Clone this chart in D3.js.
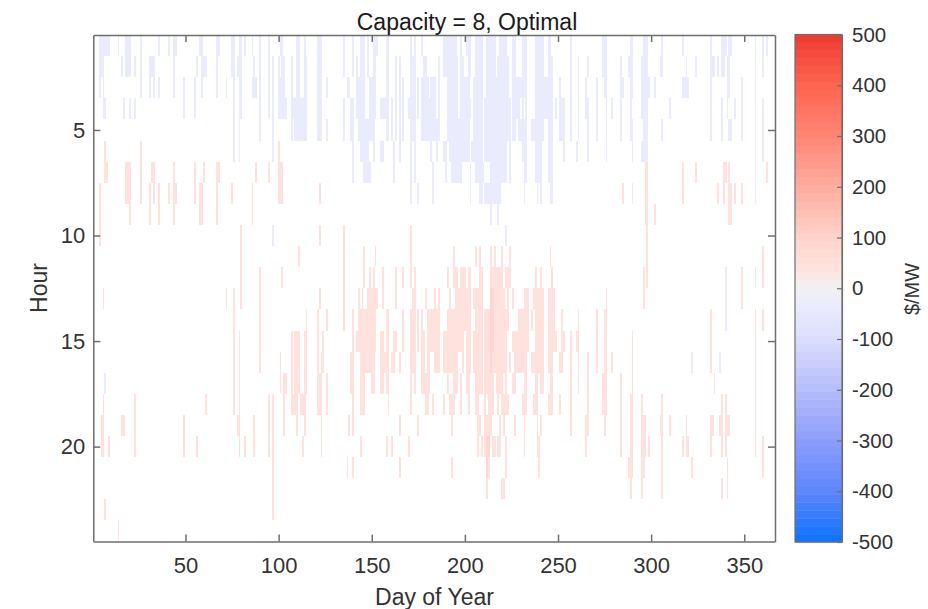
<!doctype html>
<html>

<head>
  <meta charset="UTF-8">
  <title>Capacity = 8, Optimal</title>
  <script src="https://d3js.org/d3.v7.min.js"></script>
  <style>
    html, body { margin: 0; padding: 0; background: #fff; }
    svg { display: block; }
    text { font-family: "Liberation Sans", Arial, sans-serif; }
  </style>
</head>

<body>
  <script>
    // runs of days with a value, per hour: a number is one day, [a, b] is day a to day b
    var neg1 = [[4,9],14,[18,20],26,36,41,[44,45],[58,59],[67,68],[75,76],[79,80],82,86,90,95,[101,102],[110,111],114,[121,123],135,140,[144,146],148,[151,153],[158,159],171,173,177,[189,195],198,[201,203],[206,209],[212,216],[219,222],[226,227],[231,233],[238,242],[245,246],257,[274,276],[289,290],[296,298],306,317,332,[338,340],[342,343],356,360,362];
    var neg2 = [[4,6],16,[18,20],23,26,[31,33],44,56,[59,61],67,[75,76],[78,80],87,90,95,97,100,[102,103],107,[110,111],[114,115],[121,123],135,140,142,[144,146],148,[151,152],[158,159],163,165,[171,173],[178,179],186,[189,196],[198,199],[202,203],[206,209],[212,216],[218,223],[226,227],[231,233],[238,242],[245,247],257,261,266,[274,276],284,[288,290],[295,298],[305,306],319,324,[332,334],336,[338,339],[341,342],356,360];
    var neg3 = [4,6,26,31,33,36,44,49,55,59,67,72,76,[79,80],[86,88],90,95,97,[100,103],107,[110,111],[114,115],[121,123],126,[137,138],[142,146],[149,152],[158,159],163,165,167,[171,173],175,[177,180],[182,184],186,[191,196],[198,202],[205,209],[212,223],[226,233],[238,247],251,257,261,265,271,[275,276],[284,285],[289,290],[295,299],302,[317,320],332,[341,342],349,356];
    var neg4 = [[6,7],17,20,23,49,55,76,[79,80],90,95,97,[100,104],[107,111],[112,115],[121,123],135,[139,140],[142,146],[149,152],[155,159],161,163,165,167,[170,173],175,[177,184],186,[191,196],[198,203],[205,209],[211,224],[226,229],231,233,[238,247],249,[251,253],257,261,[265,266],271,276,279,284,289,[295,298],310,332,338,341,345,349,356,360];
    var neg5 = [76,79,90,97,107,[109,111],[112,115],[121,123],126,135,[139,140],[143,151],[158,159],161,163,165,167,[171,173],[177,186],[191,202],[205,209],[211,224],[226,227],[229,233],[236,242],[245,247],[251,253],257,261,266,271,276,284,[289,290],[296,298],306,332,338,[342,343],349,356,360];
    var neg6 = [76,79,97,140,[144,148],151,[155,156],162,165,171,173,182,185,[189,190],[192,202],[204,209],[211,222],224,[231,233],[238,241],[245,247],253,260,266,276,290,[295,298],356,360];
    var neg7 = [140,[146,149],162,171,173,183,190,[193,198],203,[206,210],[214,222],224,[232,233],[238,241],[245,247],356];
    var neg8 = [171,175,183,203,[208,209],[211,219],232,239,241,[246,247],290,356];
    var neg9 = [214,218];
    var neg10 = [97,222];
    var neg11 = [];
    var neg12 = [340];
    var neg13 = [340];
    var neg14 = [340];
    var neg15 = [];
    var neg16 = [322,337];
    var neg17 = [7];

    var pos6 = [7,26,100];
    var pos7 = [[7,8],[18,20],26,[32,33],44,55,60,[67,68],88,95,[100,102],[297,298],317,324,[339,340],342,362];
    var pos8 = [4,[18,20],26,31,33,36,41,[44,45],55,[58,59],67,75,86,[100,102],122,285,[297,298],317,336,339,[342,343],345,349];
    var pos9 = [4,20,31,36,44,[58,59],67,86,[297,298],302,[342,343]];
    var pos10 = [4,80,122,135,171,298];
    var pos11 = [80,111,135,146,152,171,194,206,208,214,216,220,224,246,298,360];
    var pos12 = [80,90,102,135,146,149,151,156,163,167,171,173,191,[194,196],[198,200],[202,203],[208,209],[214,220],[222,224],238,241,247,296,298,349,356,360];
    var pos13 = [6,72,76,80,90,122,135,143,145,[148,153],156,163,[172,173],179,184,186,192,[195,203],[205,209],[214,221],223,226,[232,234],[237,242],[245,248],276,296,349];
    var pos14 = [76,90,115,121,126,135,140,[143,152],[158,159],167,[171,173],175,177,[180,186],[191,203],[206,209],[211,223],[229,234],236,[238,242],[245,248],252,261,271,[275,276],332,356,360];
    var pos15 = [76,79,90,107,[109,111],[114,115],121,124,140,[142,152],[155,156],[158,159],[162,163],167,[171,173],175,[177,178],[180,186],[189,199],[201,203],[205,209],[211,222],[226,234],[238,242],[245,249],[252,253],257,[260,261],271,[275,276],290,332,356];
    var pos16 = [76,79,90,101,107,[109,111],[114,115],121,[123,124],[139,140],[144,151],[155,159],[161,162],165,[171,173],[177,178],[180,181],[184,186],[189,196],199,[201,203],[205,209],[211,222],224,[227,233],[236,242],[245,247],[251,252],257,261,266,271,[275,276],279,290,332,356];
    var pos17 = [76,79,101,[103,104],107,[109,111],[114,115],[121,123],126,[139,140],[144,146],[150,151],[155,156],[158,159],171,173,[177,181],191,[194,196],198,[201,202],[206,209],[211,215],[217,220],222,[226,227],[232,233],[238,239],[241,242],[246,247],257,261,266,[274,276],284,290,334,356];
    var pos18 = [6,23,61,76,79,95,97,103,[107,110],[112,114],[121,123],126,140,[144,146],159,171,[179,180],183,189,[192,194],198,202,[206,207],211,[213,215],218,[220,223],[231,233],[237,239],[245,247],251,257,266,[274,276],284,[289,290],295,306,338,340,356];
    var pos19 = [[5,6],[16,17],23,49,[78,79],87,95,97,103,110,114,123,138,140,165,175,193,[207,208],[211,214],219,221,227,232,239,241,257,[265,266],275,284,[289,290],[295,297],[305,306],310,319,[332,333],[337,338],[340,342],356];
    var pos20 = [[5,6],9,23,49,56,79,82,87,95,97,113,123,144,158,161,170,207,209,[211,213],[215,216],[218,219],222,232,[239,240],265,284,[289,290],[295,297],299,306,317,[319,320],332,338,340,356,360];
    var pos21 = [97,137,140,165,193,[212,213],222,240,[288,290],[295,296],306,322,341,360];
    var pos22 = [97,212,[220,221],289,295,306,338,341];
    var pos23 = [7,97];
    var pos24 = [14];

    // the few cells that read darker than the rest
    var strongCells = [[13,214],[13,215],[14,214],[14,215],[15,214],[15,215],[16,214],[20,212],[20,213],[21,212]];

    var negHours = [neg1,neg2,neg3,neg4,neg5,neg6,neg7,neg8,neg9,neg10,neg11,neg12,neg13,neg14,neg15,neg16,neg17];
    var posHours = {6:pos6,7:pos7,8:pos8,9:pos9,10:pos10,11:pos11,12:pos12,13:pos13,14:pos14,15:pos15,16:pos16,17:pos17,18:pos18,19:pos19,20:pos20,21:pos21,22:pos22,23:pos23,24:pos24};
    var negLevel = -34;
    var posLevel = 40;
    var strongLevel = 90;

    var xTicks = [50,100,150,200,250,300,350];
    var yTicks = [5,10,15,20];
    var barTicks = [500,400,300,200,100,0,-100,-200,-300,-400,-500];
    var barStops = [-500,-400,-300,-200,-100,-40,-8,8,40,100,200,300,400,500];
    var barColors = ["#0a72ff","#5e86fb","#8d9cfb","#b4bcfb","#dcdefd","#e9eafd","#efeff5","#f2efee","#ffe2dd","#ffd4cc","#ffab9e","#ff8676","#ff6450","#ee3a30"];
    var barLevels = 64;

    var w = 928, h = 609;
    var svg = d3.select("body").append("svg").attr("width", w).attr("height", h);

    var defs = svg.append("defs");
    defs.append("filter").attr("id", "soft")
      .attr("x", "-2%").attr("y", "-2%").attr("width", "104%").attr("height", "104%")
      .append("feGaussianBlur").attr("stdDeviation", 0.55);

    var x = d3.scaleLinear().domain([0.5, 366.5]).range([93.3, 775]);
    var y = d3.scaleLinear().domain([0.5, 24.5]).range([35, 541.6]);
    var colorBase = d3.scaleLinear().domain(barStops).range(barColors).interpolate(d3.interpolateRgb);

    function expand(runs, hour, value) {
      var out = [];
      runs.forEach(function(r) {
        var a = Array.isArray(r) ? r[0] : r;
        var b = Array.isArray(r) ? r[1] : r;
        for (var d = a; d <= b; d++) out.push({ hour: hour, day: d, value: value });
      });
      return out;
    }

    var cells = [];
    negHours.forEach(function(runs, i) { cells = cells.concat(expand(runs, i + 1, negLevel)); });
    Object.keys(posHours).forEach(function(k) { cells = cells.concat(expand(posHours[k], +k, posLevel)); });
    cells = cells.concat(strongCells.map(function(c) { return { hour: c[0], day: c[1], value: strongLevel }; }));

    var plot = svg.append("g").attr("filter", "url(#soft)");
    plot.selectAll("rect").data(cells).enter().append("rect")
      .attr("x", function(d) { return x(d.day - 0.5); })
      .attr("y", function(d) { return y(d.hour - 0.5); })
      .attr("width", function(d) { return x(d.day + 0.5) - x(d.day - 0.5); })
      .attr("height", function(d) { return y(d.hour + 0.5) - y(d.hour - 0.5); })
      .attr("fill", function(d) { return colorBase(d.value); })
      .attr("shape-rendering", "crispEdges");

    function styleAxis(g) {
      g.selectAll(".domain").attr("stroke", "#6e6e6e").attr("stroke-width", 1.5);
      g.selectAll(".tick line").attr("stroke", "#6e6e6e").attr("stroke-width", 1.5);
      g.selectAll(".tick text").attr("fill", "#333").style("font-size", "22px").style("font-family", '"Liberation Sans", Arial, sans-serif');
    }

    var xb = d3.axisBottom(x).tickValues(xTicks).tickSizeInner(-7).tickSizeOuter(0).tickPadding(16);
    var xt = d3.axisTop(x).tickValues(xTicks).tickSizeInner(-7).tickSizeOuter(0).tickFormat("");
    var yl = d3.axisLeft(y).tickValues(yTicks).tickSizeInner(-7).tickSizeOuter(0).tickPadding(8);
    var yr = d3.axisRight(y).tickValues(yTicks).tickSizeInner(-7).tickSizeOuter(0).tickFormat("");

    svg.append("g").attr("transform", "translate(0,541.6)").call(xb).call(styleAxis);
    svg.append("g").attr("transform", "translate(0,35)").call(xt).call(styleAxis);
    svg.append("g").attr("transform", "translate(93.3,0)").call(yl).call(styleAxis);
    svg.append("g").attr("transform", "translate(775,0)").call(yr).call(styleAxis);

    // colorbar
    var barY = d3.scaleLinear().domain([500, -500]).range([34.5, 542]);
    var step = 1000 / barLevels;
    var bands = d3.range(barLevels).map(function(i) { return -500 + step * i; });
    svg.append("g").selectAll("rect").data(bands).enter().append("rect")
      .attr("x", 795).attr("width", 47)
      .attr("y", function(d) { return barY(d + step); })
      .attr("height", function(d) { return barY(d) - barY(d + step) + 0.5; })
      .attr("fill", function(d) { return colorBase(d + step / 2); });

    var barAxis = d3.axisRight(barY).tickValues(barTicks).tickSizeInner(-5).tickSizeOuter(0).tickPadding(10)
      .tickFormat(function(d) { return String(d); });
    var barG = svg.append("g").attr("transform", "translate(842,0)").call(barAxis);
    barG.selectAll(".domain").attr("stroke", "#6e6e6e").attr("stroke-width", 1.2);
    barG.selectAll(".tick line").attr("stroke", "#6e6e6e").attr("stroke-width", 1.2);
    barG.selectAll(".tick text").attr("fill", "#333").style("font-size", "20.5px").style("font-family", '"Liberation Sans", Arial, sans-serif');
    svg.append("rect").attr("x", 795).attr("y", 34.5).attr("width", 47).attr("height", 507.5)
      .attr("fill", "none").attr("stroke", "#6e6e6e").attr("stroke-width", 1.2);

    svg.append("text").attr("x", 467).attr("y", 30).attr("text-anchor", "middle")
      .attr("fill", "#1a1a1a").style("font-size", "23px").text("Capacity = 8, Optimal");
    svg.append("text").attr("x", 434.5).attr("y", 605).attr("text-anchor", "middle")
      .attr("fill", "#333").style("font-size", "23px").text("Day of Year");
    svg.append("text").attr("transform", "translate(47,288) rotate(-90)").attr("text-anchor", "middle")
      .attr("fill", "#333").style("font-size", "23px").text("Hour");
    svg.append("text").attr("transform", "translate(919,289) rotate(-90)").attr("text-anchor", "middle")
      .attr("fill", "#333").style("font-size", "20px").text("$/MW");
  </script>
</body>

</html>
